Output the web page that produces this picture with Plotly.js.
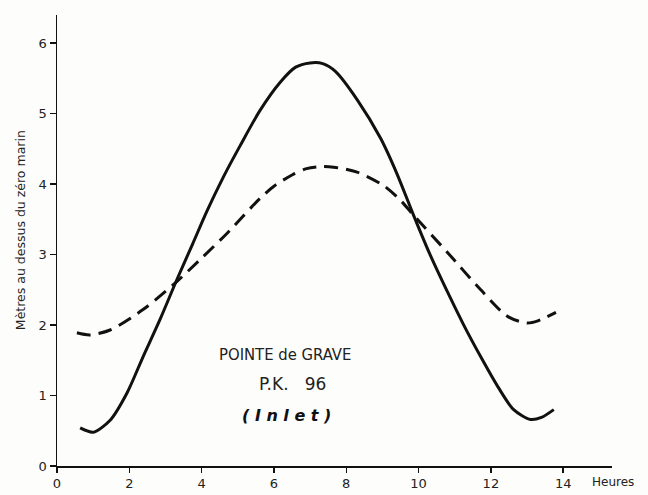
<!DOCTYPE html>
<html>
<head>
<meta charset="utf-8">
<script src="https://cdn.plot.ly/plotly-3.0.1.min.js"></script>
<style>html,body{margin:0;padding:0;background:#fdfdfb;}#chart{width:648px;height:495px;}</style>
</head>
<body>
<div id="chart"></div>
<script>
// Hours and water levels (m above chart datum)
const solidHours = [0.64, 1.0, 1.47, 1.94, 2.38, 2.85, 3.32, 3.75, 4.15, 4.6, 5.07, 5.62, 6.18, 6.6, 7.0, 7.35, 7.7, 8.3, 8.95, 9.4, 9.86, 10.3, 10.8, 11.25, 11.72, 12.2, 12.63, 13.1, 13.4, 13.74];
const solidLevels = [0.54, 0.48, 0.65, 1.04, 1.55, 2.08, 2.65, 3.15, 3.62, 4.1, 4.55, 5.05, 5.45, 5.66, 5.72, 5.71, 5.6, 5.2, 4.65, 4.15, 3.56, 3.02, 2.47, 2.0, 1.55, 1.12, 0.8, 0.66, 0.69, 0.8];
const dashedHours = [0.55, 0.91, 1.47, 2.38, 3.32, 4.0, 4.7, 5.62, 6.0, 6.5, 6.9, 7.3, 7.65, 8.3, 9.03, 9.5, 9.86, 10.8, 11.72, 12.47, 13.0, 13.3, 13.8];
const dashedLevels = [1.89, 1.86, 1.93, 2.22, 2.62, 2.95, 3.3, 3.8, 3.97, 4.13, 4.22, 4.25, 4.24, 4.17, 3.98, 3.77, 3.56, 3.03, 2.5, 2.12, 2.03, 2.06, 2.18];
const xTicks = [0, 2, 4, 6, 8, 10, 12, 14];
const yTicks = [0, 1, 2, 3, 4, 5, 6];

const ink = '#111';
const traces = [
  {x: solidHours, y: solidLevels, mode: 'lines', line: {color: ink, width: 3, shape: 'spline', smoothing: 0.8}, hoverinfo: 'skip'},
  {x: dashedHours, y: dashedLevels, mode: 'lines', line: {color: ink, width: 3, dash: '14px,8px', shape: 'spline', smoothing: 0.8}, hoverinfo: 'skip'}
];

const fam = 'DejaVu Sans, sans-serif';
const cond = 'DejaVu Sans Condensed, DejaVu Sans, sans-serif';
const font = {family: fam, size: 13, color: '#222'};
const layout = {
  width: 648, height: 495,
  margin: {l: 57, r: 36, t: 15, b: 29},
  paper_bgcolor: '#fdfdfb', plot_bgcolor: '#fdfdfb',
  showlegend: false,
  font: font,
  xaxis: {
    range: [0, 15.35], tickvals: xTicks, ticktext: xTicks.map(String),
    showgrid: false, zeroline: false, showline: true, linecolor: ink, linewidth: 1.5,
    ticks: 'outside', ticklen: 5, tickwidth: 1.5, tickcolor: ink,
    tickfont: font, fixedrange: true
  },
  yaxis: {
    range: [0, 6.4], tickvals: yTicks, ticktext: yTicks.map(String),
    showgrid: false, zeroline: false, showline: true, linecolor: ink, linewidth: 1.5,
    ticks: 'outside', ticklen: 6, tickwidth: 1.5, tickcolor: ink,
    tickfont: font, fixedrange: true
  },
  annotations: [
    {text: 'Mètres au dessus du zéro marin', xref: 'paper', yref: 'paper', x: -37/555, y: 0.523, textangle: -90, showarrow: false, xanchor: 'center', yanchor: 'middle', font: {family: fam, size: 12.5, color: '#222'}},
    {text: 'Heures', xref: 'paper', yref: 'paper', x: 533/555, y: -16/451, showarrow: false, xanchor: 'left', yanchor: 'middle', font: {family: fam, size: 12, color: '#222'}},
    {text: 'POINTE de GRAVE', xref: 'x', yref: 'y', x: 6.3, y: 1.58, showarrow: false, xanchor: 'center', yanchor: 'middle', font: {family: cond, size: 16.5, color: '#222'}},
    {text: 'P.K.&nbsp;&nbsp;&nbsp;96', xref: 'x', yref: 'y', x: 6.5, y: 1.16, showarrow: false, xanchor: 'center', yanchor: 'middle', font: {family: fam, size: 17, color: '#222'}},
    {text: '<b><i>( I n l e t )</i></b>', xref: 'x', yref: 'y', x: 6.36, y: 0.72, showarrow: false, xanchor: 'center', yanchor: 'middle', font: {family: fam, size: 16, color: '#111'}}
  ]
};

Plotly.newPlot('chart', traces, layout, {staticPlot: true});
</script>
</body>
</html>
